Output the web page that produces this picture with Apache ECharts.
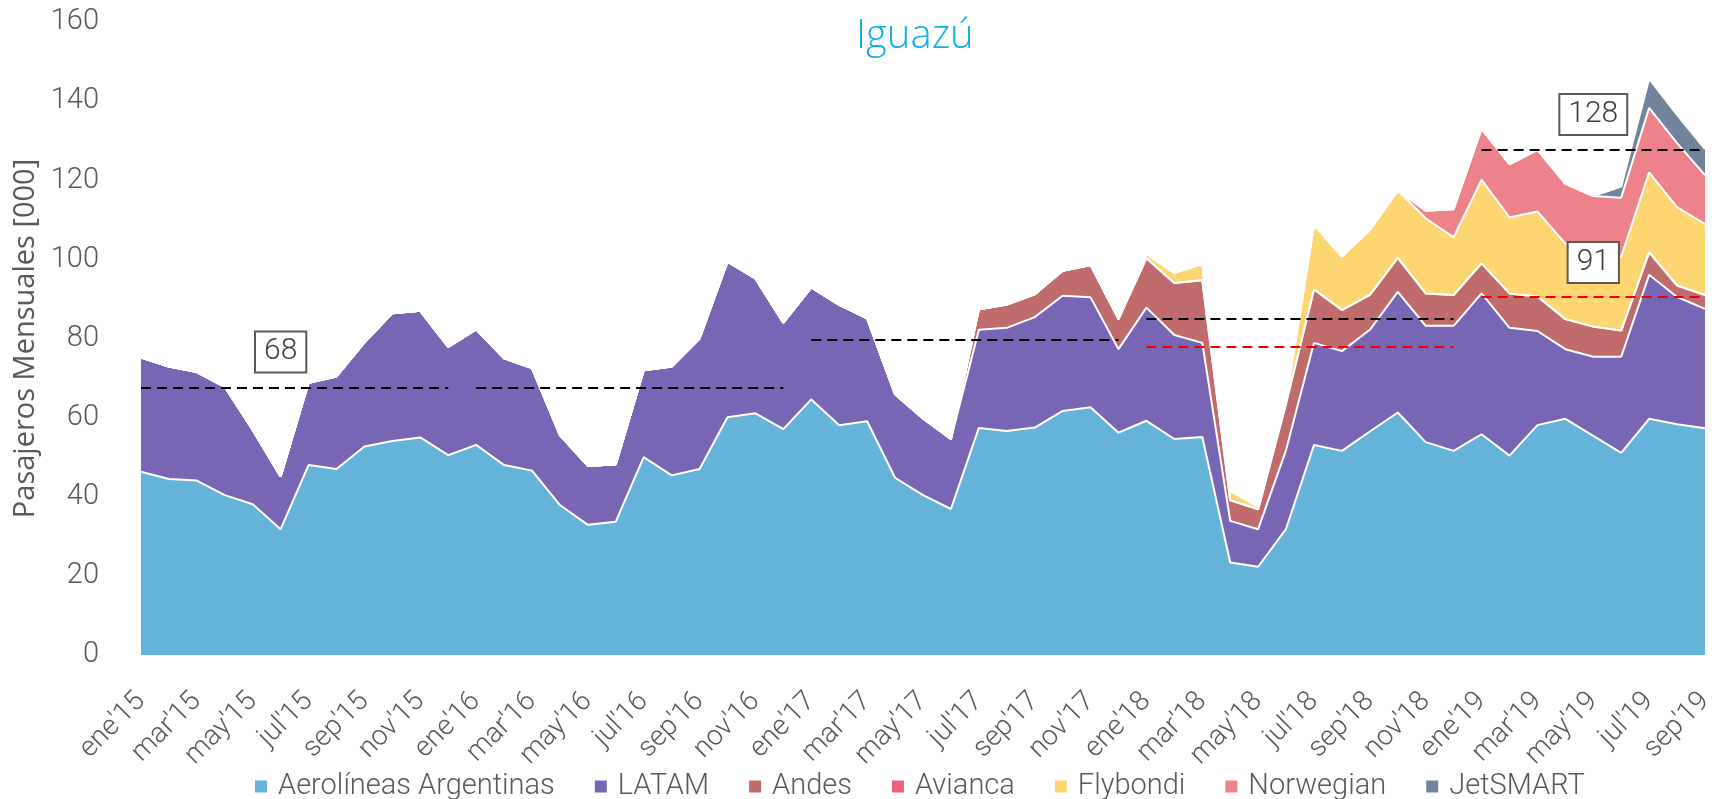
<!DOCTYPE html>
<html>
<head>
<meta charset="utf-8">
<script src="https://cdn.jsdelivr.net/npm/echarts@6/dist/echarts.min.js"></script>
<style>
  html, body { margin: 0; padding: 0; background: #fff; }
  #chart { width: 1720px; height: 799px; }
</style>
</head>
<body>
<div id="chart"></div>
<script>
// meses ene'15 .. sep'19
const monthNames = ['ene', 'feb', 'mar', 'abr', 'may', 'jun', 'jul', 'ago', 'sep', 'oct', 'nov', 'dic'];
const years = ['15', '16', '17', '18', '19'];
const categories = [];
years.forEach(function (y) {
  monthNames.forEach(function (m, k) {
    if (y === '19' && k > 8) return;
    categories.push(m + "'" + y);
  });
});

// pasajeros mensuales [000] por aerolinea
const aerolineas = [46.3, 44.5, 44.1, 40.4, 38.1, 31.8, 48.0, 47.0, 52.7, 54.1, 55.0, 50.5,
  53.1, 48.0, 46.6, 37.9, 32.9, 33.7, 50.0, 45.4, 47.0, 60.1, 61.1, 57.1,
  64.6, 58.1, 59.1, 44.8, 40.4, 36.9, 57.4, 56.6, 57.5, 61.7, 62.6, 56.2,
  59.2, 54.6, 55.1, 23.4, 22.3, 31.9, 53.1, 51.6, 56.5, 61.3, 53.8, 51.6,
  55.8, 50.4, 58.1, 59.7, 55.4, 51.1, 59.7, 58.3, 57.3];
const latam = [28.9, 28.4, 27.4, 27.4, 18.8, 13.3, 20.8, 23.4, 26.3, 32.3, 32.0, 27.4,
  29.2, 27.0, 25.9, 17.7, 14.9, 14.5, 22.0, 27.5, 33.0, 39.3, 34.1, 26.9,
  28.3, 30.4, 26.0, 21.1, 19.4, 17.7, 24.8, 26.1, 27.9, 29.1, 27.8, 21.1,
  28.6, 26.3, 23.8, 10.5, 9.5, 19.9, 25.8, 25.2, 25.7, 30.5, 29.4, 31.6,
  35.6, 32.3, 23.8, 17.6, 20.0, 24.3, 36.4, 32.2, 30.2];
const andes = [0, 0, 0, 0, 0, 0, 0, 0, 0, 0, 0, 0,
  0, 0, 0, 0, 0, 0, 0, 0, 0, 0, 0, 0,
  0, 0, 0, 0, 0, 0, 5.2, 5.9, 5.8, 6.3, 8.2, 7.6,
  12.5, 13.1, 15.8, 5.2, 5.0, 11.8, 13.5, 10.4, 8.8, 8.6, 8.2, 7.8,
  7.6, 8.7, 8.7, 7.6, 7.6, 6.6, 5.7, 2.9, 3.5];
const avianca = [0, 0, 0, 0, 0, 0, 0, 0, 0, 0, 0, 0,
  0, 0, 0, 0, 0, 0, 0, 0, 0, 0, 0, 0,
  0, 0, 0, 0, 0, 0, 0, 0, 0, 0, 0, 0,
  0, 0, 0, 0, 0, 0, 0, 0, 0, 0, 0, 0,
  0, 0, 0, 0, 0, 0, 0, 0, 0];
const flybondi = [0, 0, 0, 0, 0, 0, 0, 0, 0, 0, 0, 0,
  0, 0, 0, 0, 0, 0, 0, 0, 0, 0, 0, 0,
  0, 0, 0, 0, 0, 0, 0, 0, 0, 0, 0, 0,
  1.1, 2.6, 4.1, 2.4, 0.7, 0.8, 16.3, 13.5, 16.4, 17.0, 19.0, 14.6,
  21.1, 19.2, 21.5, 19.1, 19.0, 18.7, 20.2, 19.8, 17.9];
const norwegian = [0, 0, 0, 0, 0, 0, 0, 0, 0, 0, 0, 0,
  0, 0, 0, 0, 0, 0, 0, 0, 0, 0, 0, 0,
  0, 0, 0, 0, 0, 0, 0, 0, 0, 0, 0, 0,
  0, 0, 0, 0, 0, 0, 0, 0, 0, 0, 1.9, 7.1,
  12.9, 13.4, 15.6, 15.1, 14.0, 14.9, 16.3, 16.2, 12.4];
const jetsmart = [0, 0, 0, 0, 0, 0, 0, 0, 0, 0, 0, 0,
  0, 0, 0, 0, 0, 0, 0, 0, 0, 0, 0, 0,
  0, 0, 0, 0, 0, 0, 0, 0, 0, 0, 0, 0,
  0, 0, 0, 0, 0, 0, 0, 0, 0, 0, 0, 0,
  0, 0, 0, 0, 0, 2.8, 7.3, 7.1, 6.6];

// promedios anuales (lineas punteadas): desde, hasta, valor
const promDesde = ["ene'15", "ene'16", "ene'17", "ene'18", "ene'18", "ene'19", "ene'19"];
const promHasta = ["dic'15", "dic'16", "dic'17", "dic'18", "dic'18", "sep'19", "sep'19"];
const promValor = [67.6, 67.6, 79.8, 84.9, 77.8, 127.7, 90.6];
const promColor = ['#000', '#000', '#000', '#000', '#e00', '#000', '#e00'];

const nombres = ['Aerolíneas Argentinas', 'LATAM', 'Andes', 'Avianca', 'Flybondi', 'Norwegian', 'JetSMART'];
const colores = ['#66b3da', '#7866b4', '#c06c6c', '#f0607a', '#fdd672', '#ee828a', '#72849c'];
const valores = [aerolineas, latam, andes, avianca, flybondi, norwegian, jetsmart];

const grisTexto = '#595959';
const fuente = 'Roboto';

let myChart = echarts.init(document.getElementById('chart'));

let lineasProm = [];
for (let i = 0; i < promValor.length; i++) {
  lineasProm.push([
    { coord: [promDesde[i], promValor[i]], lineStyle: { color: promColor[i] } },
    { coord: [promHasta[i], promValor[i]] }
  ]);
}

// cajas con el promedio redondeado
let cajaLabel = {
  show: true,
  position: 'inside',
  formatter: '{c}',
  color: '#404040',
  fontFamily: fuente,
  fontWeight: 300,
  fontSize: 30,
  backgroundColor: '#fff',
  borderColor: '#595959',
  borderWidth: 2,
  padding: [6, 8, 3, 8]
};
let cajas = [
  { coord: ["jun'15", 76.6], value: Math.round(promValor[0]) },
  { coord: ["may'19", 136.6], value: Math.round(promValor[5]) },
  { coord: ["may'19", 99.2], value: Math.round(promValor[6]) }
];

let series = [];
for (let i = 0; i < nombres.length; i++) {
  let s = {
    name: nombres[i],
    type: 'line',
    stack: 'total',
    data: valores[i],
    symbol: 'none',
    smooth: false,
    lineStyle: { color: '#fff', width: 2 },
    itemStyle: { color: colores[i] },
    areaStyle: { color: colores[i], opacity: 1 },
    emphasis: { disabled: true }
  };
  series.push(s);
}
// lineas de promedio y cajas arriba de todo
series.push({
  name: 'promedios',
  type: 'line',
  data: [],
  symbol: 'none',
  z: 10,
  markLine: {
    silent: true,
    symbol: 'none',
    label: { show: false },
    lineStyle: { type: [10, 6], width: 2 },
    data: lineasProm
  },
  markPoint: {
    silent: true,
    symbol: 'rect',
    symbolSize: 0,
    label: cajaLabel,
    data: cajas
  }
});

let option = {
  animation: false,
  title: {
    text: 'Iguazú',
    left: 851,
    top: 12,
    textStyle: {
      color: '#12b0e8',
      fontFamily: 'Open Sans',
      fontWeight: 300,
      fontSize: 40
    }
  },
  legend: {
    data: nombres,
    left: 250,
    top: 767,
    icon: 'rect',
    itemWidth: 12,
    itemHeight: 12,
    itemGap: 40,
    itemStyle: { borderWidth: 0 },
    textStyle: {
      color: grisTexto,
      fontFamily: fuente,
      fontWeight: 300,
      fontSize: 29,
      padding: [0, 0, 0, 6]
    }
  },
  grid: {
    left: 141,
    right: 15,
    top: 22,
    bottom: 144
  },
  xAxis: {
    type: 'category',
    boundaryGap: false,
    data: categories,
    axisLine: { show: false },
    axisTick: { show: false },
    axisLabel: {
      interval: 1,
      rotate: 45,
      margin: 42,
      color: grisTexto,
      fontFamily: fuente,
      fontWeight: 300,
      fontSize: 28
    }
  },
  yAxis: {
    type: 'value',
    min: 0,
    max: 160,
    interval: 20,
    name: 'Pasajeros Mensuales [000]',
    nameLocation: 'middle',
    nameRotate: 90,
    nameGap: 96,
    nameTextStyle: {
      color: grisTexto,
      fontFamily: 'Open Sans',
      fontSize: 29
    },
    splitLine: { show: false },
    axisLine: { show: false },
    axisTick: { show: false },
    axisLabel: {
      margin: 42,
      color: grisTexto,
      fontFamily: fuente,
      fontWeight: 300,
      fontSize: 29
    }
  },
  series: series
};
myChart.setOption(option);
</script>
</body>
</html>
